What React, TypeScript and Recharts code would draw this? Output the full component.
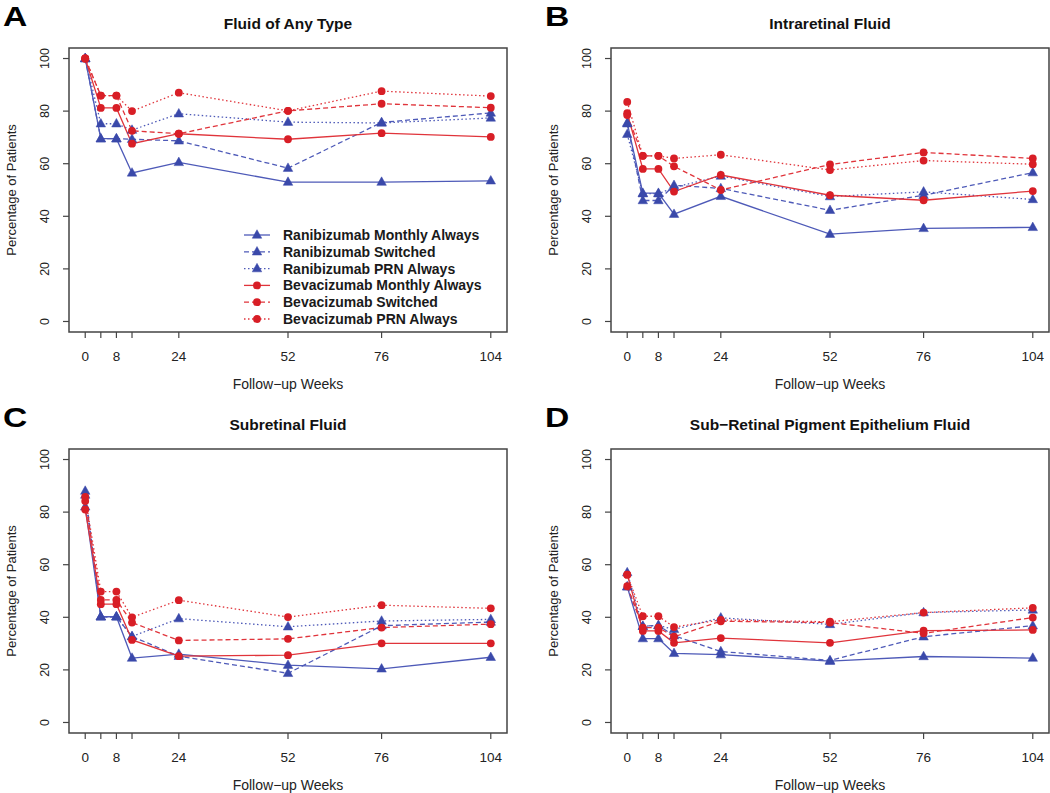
import React from "react"
import { LineChart, Line, XAxis, YAxis, ReferenceArea } from "recharts"

// follow-up weeks and axis ticks
const weeks = [0, 4, 8, 12, 24, 52, 76, 104]
const labelWeeks = [0, 8, 24, 52, 76, 104]
const yTicks = [0, 20, 40, 60, 80, 100]

// A: fluid of any type
const anyRanMonthly = [100, 69.5, 69.5, 56.5, 60.5, 53, 53, 53.5]
const anyRanSwitched = [100, 69.5, 69.5, 69.3, 68.7, 58.3, 75.7, 79.3]
const anyRanPrn = [100, 75.2, 75.2, 72.8, 79, 75.8, 75.5, 77.4]
const anyBevMonthly = [100, 81.2, 81.2, 67.6, 71.4, 69.3, 71.6, 70.2]
const anyBevSwitched = [100, 85.9, 85.9, 72.5, 71.4, 80.1, 82.8, 81.3]
const anyBevPrn = [100, 85.9, 85.9, 80, 87, 80.1, 87.6, 85.7]

// B: intraretinal fluid
const irfRanMonthly = [75.5, 48.8, 48.8, 40.8, 47.6, 33.2, 35.4, 35.8]
const irfRanSwitched = [75.2, 46, 46, 51.8, 50.6, 42.3, 48, 56.6]
const irfRanPrn = [71.2, 48.6, 48.6, 51, 55.3, 47.5, 49.3, 46.4]
const irfBevMonthly = [79.2, 58, 58, 49.4, 55.7, 48, 46.1, 49.6]
const irfBevSwitched = [78.5, 63, 63, 59, 50, 59.7, 64.3, 62]
const irfBevPrn = [83.5, 63, 63, 62, 63.4, 57.6, 61.2, 59.8]

// C: subretinal fluid
const srfRanMonthly = [82, 40.2, 40.2, 24.5, 26, 21.8, 20.4, 24.8]
const srfRanSwitched = [88, 40.2, 40.2, 32.7, 25.2, 18.7, 36.8, 38.2]
const srfRanPrn = [86.5, 40.2, 40.2, 32.7, 39.5, 36.4, 38.6, 39.2]
const srfBevMonthly = [81, 45, 45, 31.4, 25.2, 25.6, 30.1, 30.1]
const srfBevSwitched = [84.2, 46.6, 46.6, 38, 31.2, 31.8, 36.1, 37.4]
const srfBevPrn = [85.8, 49.8, 49.8, 40, 46.5, 40.1, 44.6, 43.4]

// D: sub-retinal pigment epithelium fluid
const pedRanMonthly = [51.6, 31.9, 31.9, 26.3, 25.8, 23.3, 25.1, 24.5]
const pedRanSwitched = [51.6, 36.6, 36.9, 33, 27, 23.6, 32.6, 36.8]
const pedRanPrn = [57, 36.6, 36.9, 35.4, 39.8, 37.3, 41.8, 42.8]
const pedBevMonthly = [56.2, 34.8, 34.8, 30.3, 32.1, 30.3, 34.9, 35.2]
const pedBevSwitched = [51.8, 36.1, 36.1, 32.6, 38.5, 38, 33.9, 39.9]
const pedBevPrn = [56.2, 40.4, 40.4, 36.3, 39, 38.3, 41.8, 43.6]

const seriesNames = [
    "Ranibizumab Monthly Always",
    "Ranibizumab Switched",
    "Ranibizumab PRN Always",
    "Bevacizumab Monthly Always",
    "Bevacizumab Switched",
    "Bevacizumab PRN Always",
]

const BLUE = "#3a49aa"
const BLUE_LINE = "#4e5ab8"
const RED = "#d81e26"
const RED_LINE = "#e0343b"
const FONT = "'Liberation Sans', Arial, sans-serif"

const styles = [
    { color: BLUE, line: BLUE_LINE, dash: undefined, tri: true },
    { color: BLUE, line: BLUE_LINE, dash: "5 3", tri: true },
    { color: BLUE, line: BLUE_LINE, dash: "1.5 2.5", tri: true },
    { color: RED, line: RED_LINE, dash: undefined, tri: false },
    { color: RED, line: RED_LINE, dash: "5 3", tri: false },
    { color: RED, line: RED_LINE, dash: "1.5 2.5", tri: false },
]

function marker(cx: number, cy: number, tri: boolean, color: string, key?: any) {
    if (tri) {
        const h = 8.5
        const w = 9.5
        return (
            <polygon
                key={key}
                points={`${cx},${cy - h * 0.62} ${cx - w / 2},${cy + h * 0.38} ${cx + w / 2},${cy + h * 0.38}`}
                fill={color}
                stroke={color}
                strokeWidth={0.5}
            />
        )
    }
    return <circle key={key} cx={cx} cy={cy} r={3.9} fill={color} stroke="none" />
}

// eslint-disable-next-line @typescript-eslint/no-explicit-any
function XTick({ x, y, payload }: any) {
    if (!labelWeeks.includes(payload.value)) return null
    return (
        <text x={x} y={y + 21} textAnchor="middle" fontSize={13.5} fill="#222" fontFamily={FONT}>
            {payload.value}
        </text>
    )
}

// eslint-disable-next-line @typescript-eslint/no-explicit-any
function YTick({ x, y, payload }: any) {
    return (
        <text
            transform={`translate(${x - 16},${y}) rotate(-90)`}
            textAnchor="middle"
            dominantBaseline="central"
            fontSize={12.5}
            fill="#222"
            fontFamily={FONT}
        >
            {payload.value}
        </text>
    )
}

const PLOT_W = 438
const PLOT_H = 284
const Y_AXIS_W = 69
const TOP_M = 48
const X_AXIS_H = 64

interface PanelProps {
    letter: string
    title: string
    left: number
    top: number
    series: number[][]
    legend?: boolean
}

function Panel({ letter, title, left, top, series, legend }: PanelProps) {
    const data = weeks.map((w, i) => {
        const row: Record<string, number> = { week: w }
        series.forEach((s, k) => {
            row["s" + k] = s[i]
        })
        return row
    })
    const plotLeft = left + Y_AXIS_W
    const plotTop = top + TOP_M
    const plotBottom = plotTop + PLOT_H
    const cx = plotLeft + PLOT_W / 2

    return (
        <>
            <div style={{ position: "absolute", left, top }}>
                <LineChart
                    width={Y_AXIS_W + PLOT_W + 18}
                    height={TOP_M + PLOT_H + X_AXIS_H}
                    data={data}
                    margin={{ top: TOP_M, right: 18, bottom: 0, left: 0 }}
                >
                    <XAxis
                        dataKey="week"
                        type="number"
                        domain={[-4.16, 108.16]}
                        ticks={weeks}
                        interval={0}
                        allowDataOverflow
                        axisLine={false}
                        tickLine={{ stroke: "#444", strokeWidth: 1.2 }}
                        tickSize={6}
                        height={X_AXIS_H}
                        tick={<XTick />}
                    />
                    <YAxis
                        type="number"
                        domain={[-4, 104]}
                        ticks={yTicks}
                        interval={0}
                        allowDataOverflow
                        axisLine={false}
                        tickLine={{ stroke: "#444", strokeWidth: 1.2 }}
                        tickSize={6}
                        width={Y_AXIS_W}
                        tick={<YTick />}
                    />
                    <ReferenceArea
                        x1={-4.16}
                        x2={108.16}
                        y1={-4}
                        y2={104}
                        fill="none"
                        fillOpacity={0}
                        stroke="#444"
                        strokeWidth={1.5}
                        ifOverflow="visible"
                    />
                    {styles.map((st, k) => (
                        <Line
                            key={k}
                            type="linear"
                            dataKey={"s" + k}
                            name={seriesNames[k]}
                            stroke={st.line}
                            strokeWidth={1.3}
                            strokeDasharray={st.dash}
                            // eslint-disable-next-line @typescript-eslint/no-explicit-any
                            dot={(p: any) => marker(p.cx, p.cy, st.tri, st.color, p.key ?? `${k}-${p.index}`)}
                            activeDot={false}
                            isAnimationActive={false}
                        />
                    ))}
                </LineChart>
            </div>
            <div style={{ position: "absolute", left: left + 3, top: top + 2, fontSize: 28, fontWeight: "bold", fontFamily: FONT, lineHeight: "30px", transform: "scaleX(1.2)", transformOrigin: "left" }}>
                {letter}
            </div>
            <div style={{ position: "absolute", left: cx - 200, width: 400, top: plotTop - 34, textAlign: "center", fontSize: 15.5, fontWeight: "bold", fontFamily: FONT, lineHeight: "20px", color: "#111" }}>
                {title}
            </div>
            <div style={{ position: "absolute", left: cx - 150, width: 300, top: plotBottom + 43, textAlign: "center", fontSize: 14, fontFamily: FONT, lineHeight: "18px", color: "#222" }}>
                Follow−up Weeks
            </div>
            <div style={{ position: "absolute", left: plotLeft - 57 - 100, width: 200, top: plotTop + PLOT_H / 2 - 9, textAlign: "center", fontSize: 13, fontFamily: FONT, lineHeight: "18px", color: "#222", transform: "rotate(-90deg)" }}>
                Percentage of Patients
            </div>
            {legend && (
                <svg style={{ position: "absolute", left: 0, top: 0 }} width={525} height={396}>
                    {seriesNames.map((n, i) => {
                        const st = styles[i]
                        const y = 235 + i * 16.8
                        return (
                            <g key={n}>
                                <line x1={244} x2={270} y1={y} y2={y} stroke={st.line} strokeWidth={1.3} strokeDasharray={st.dash} />
                                {marker(257, y, st.tri, st.color)}
                                <text x={283} y={y} dominantBaseline="central" fontSize={14} fontWeight="bold" fontFamily={FONT} fill="#1a1a1a">
                                    {n}
                                </text>
                            </g>
                        )
                    })}
                </svg>
            )}
        </>
    )
}

export default function App() {
    return (
        <div style={{ position: "absolute", left: 0, top: 0, width: 1050, height: 793, background: "#fff", overflow: "hidden" }}>
            <Panel
                letter="A"
                title="Fluid of Any Type"
                left={0}
                top={0}
                series={[anyRanMonthly, anyRanSwitched, anyRanPrn, anyBevMonthly, anyBevSwitched, anyBevPrn]}
                legend
            />
            <Panel
                letter="B"
                title="Intraretinal Fluid"
                left={542}
                top={0}
                series={[irfRanMonthly, irfRanSwitched, irfRanPrn, irfBevMonthly, irfBevSwitched, irfBevPrn]}
            />
            <Panel
                letter="C"
                title="Subretinal Fluid"
                left={0}
                top={401}
                series={[srfRanMonthly, srfRanSwitched, srfRanPrn, srfBevMonthly, srfBevSwitched, srfBevPrn]}
            />
            <Panel
                letter="D"
                title="Sub−Retinal Pigment Epithelium Fluid"
                left={542}
                top={401}
                series={[pedRanMonthly, pedRanSwitched, pedRanPrn, pedBevMonthly, pedBevSwitched, pedBevPrn]}
            />
        </div>
    )
}
